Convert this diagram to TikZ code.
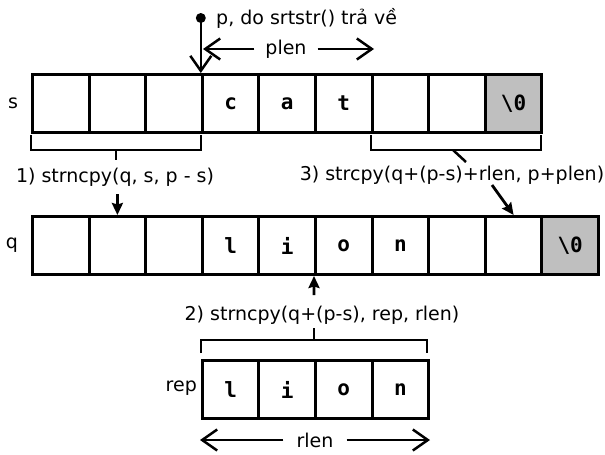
\documentclass[tikz,border=0pt]{standalone}
\usepackage{fontspec}
\setmainfont{DejaVu Sans}
\setmonofont{DejaVu Sans Mono}
\usetikzlibrary{arrows.meta,calc}
\begin{document}
\begin{tikzpicture}[x=1pt,y=-1pt,
  cell/.style={draw,line width=3pt,inner sep=0pt,minimum width=56.6pt,minimum height=58pt,anchor=north west,font=\ttfamily\bfseries\fontsize{21}{21}\selectfont},
  nul/.style={fill=black!25},
  lbl/.style={font=\fontsize{19}{20}\selectfont,inner sep=0pt},
  brk/.style={line width=2.5pt},
  bigarrow/.style={line width=2.5pt,-{Straight Barb[length=15pt,width=21pt,line width=2.5pt]}},
  smallarrow/.style={line width=2.8pt,-{Stealth[length=12pt,width=11pt,inset=1.5pt]}}
]
\useasboundingbox (0,0) rectangle (605,455);
% row s
\foreach \i/\t in {1/,2/,3/,4/c,5/a,6/t,7/,8/}
  \node[cell] (s\i) at ({31+(\i-1)*56.6},73) {\t};
\node[cell,nul] (s9) at ({31+8*56.6},73) {\textbackslash0};
% row q
\foreach \i/\t in {1/,2/,3/,4/l,5/i,6/o,7/n,8/,9/}
  \node[cell] (q\i) at ({31+(\i-1)*56.6},215) {\t};
\node[cell,nul] (q10) at ({31+9*56.6},215) {\textbackslash0};
% row rep
\foreach \i/\t in {1/l,2/i,3/o,4/n}
  \node[cell] (r\i) at ({31+(\i+2)*56.6},359) {\t};
% row labels
\node[lbl] (ls) at (13,103) {s};
\node[lbl] (lq) at (12,245) {q};
\node[lbl,anchor=east] (lr) at (197,388) {rep};
% pointer p
\node[circle,fill,inner sep=0pt,minimum size=10pt] (p) at (200.8,18) {};
\node[lbl,anchor=west] (ptext) at (216,18) {p, do srtstr() trả về};
\draw[bigarrow] (p.center) -- (p |- s4.north);
% plen
\node[lbl,inner xsep=11pt] (plen) at (286,49) {plen};
\coordinate (plenL) at (203,49);
\coordinate (plenR) at (374,49);
\draw[bigarrow] (plen) -- (plenL);
\draw[bigarrow] (plen) -- (plenR);
% step 1
\draw[brk] (31,135) -- (31,150) -- (201,150) -- (201,135);
\coordinate (b1) at (116,150);
\node[lbl,inner ysep=8pt] (l1) at (115,177) {1) strncpy(q, s, p - s)};
\draw[brk] (b1) -- (b1 |- l1.north);
\draw[smallarrow] (l1.south -| q2.north) -- (q2.north);
% step 3
\draw[brk] (371,135) -- (371,150) -- (541,150) -- (541,135);
\coordinate (b3) at (453,150);
\node[lbl] (l3) at (452,175) {3) strcpy(q+(p-s)+rlen, p+plen)};
\draw[brk] (b3) -- ++(13,12);
\coordinate (a3) at (492,185);
\draw[smallarrow] (a3) -- (q9.north);
% step 2
\coordinate (a2) at (314,295);
\draw[smallarrow] (a2) -- (q6.south west);
\node[lbl] (l2) at (322,315) {2) strncpy(q+(p-s), rep, rlen)};
\draw[brk] (201,353) -- (201,340) -- (427,340) -- (427,353);
\coordinate (b2) at (314,340);
\draw[brk] (b2) -- (314,328);
% rlen
\node[lbl,inner xsep=13pt] (rlen) at (315,440) {rlen};
\coordinate (rlenL) at (200,440);
\coordinate (rlenR) at (430,440);
\draw[bigarrow] (rlen) -- (rlenL);
\draw[bigarrow] (rlen) -- (rlenR);
\end{tikzpicture}
\end{document}
